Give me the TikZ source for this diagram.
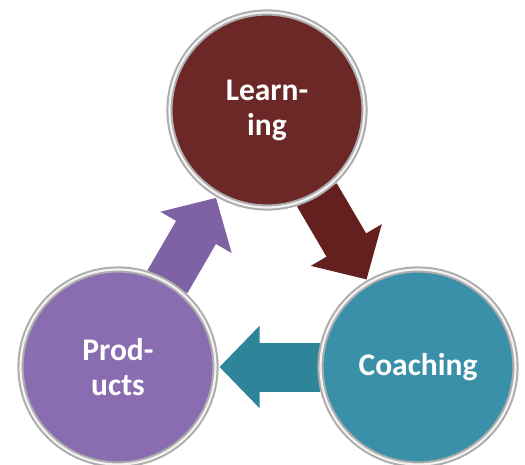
\documentclass[tikz,border=0pt]{standalone}
\usepackage{fontspec}
\setmainfont{Carlito}
\usetikzlibrary{arrows.meta,backgrounds}
\definecolor{learnfill}{RGB}{108,40,39}
\definecolor{learnarrow}{RGB}{100,32,31}
\definecolor{coachfill}{RGB}{58,144,168}
\definecolor{coacharrow}{RGB}{46,133,153}
\definecolor{prodfill}{RGB}{138,108,176}
\definecolor{prodarrow}{RGB}{126,98,163}
\begin{document}
\begin{tikzpicture}[x=1pt,y=-1pt,
  ball/.style={circle, minimum size=195pt, inner sep=0pt,
    draw=gray!65, line width=2pt, double=white!90!gray, double distance=2.2pt,
    fill=#1,
    align=center, text=white,
    font=\fontsize{31.5}{35}\selectfont\bfseries},
  flow/.style={line width=#1, -{Triangle[length=40pt,width=80pt]}, shorten >=3pt}]
\useasboundingbox (0,0) rectangle (525,465);
\node[ball=learnfill] (L) at (267,110) {Learn-\\ing};
\node[ball=coachfill] (C) at (418,367) {Coaching};
\node[ball=prodfill] (P) at (118,367) {Prod-\\ucts};
\begin{pgfonlayer}{background}
\draw[flow=46pt, draw=learnarrow, fill=learnarrow] (L) -- (C);
\draw[flow=49pt, draw=coacharrow, fill=coacharrow] (C) -- (P);
\draw[flow=46pt, draw=prodarrow, fill=prodarrow] (P) -- (L);
\end{pgfonlayer}
\end{tikzpicture}
\end{document}
